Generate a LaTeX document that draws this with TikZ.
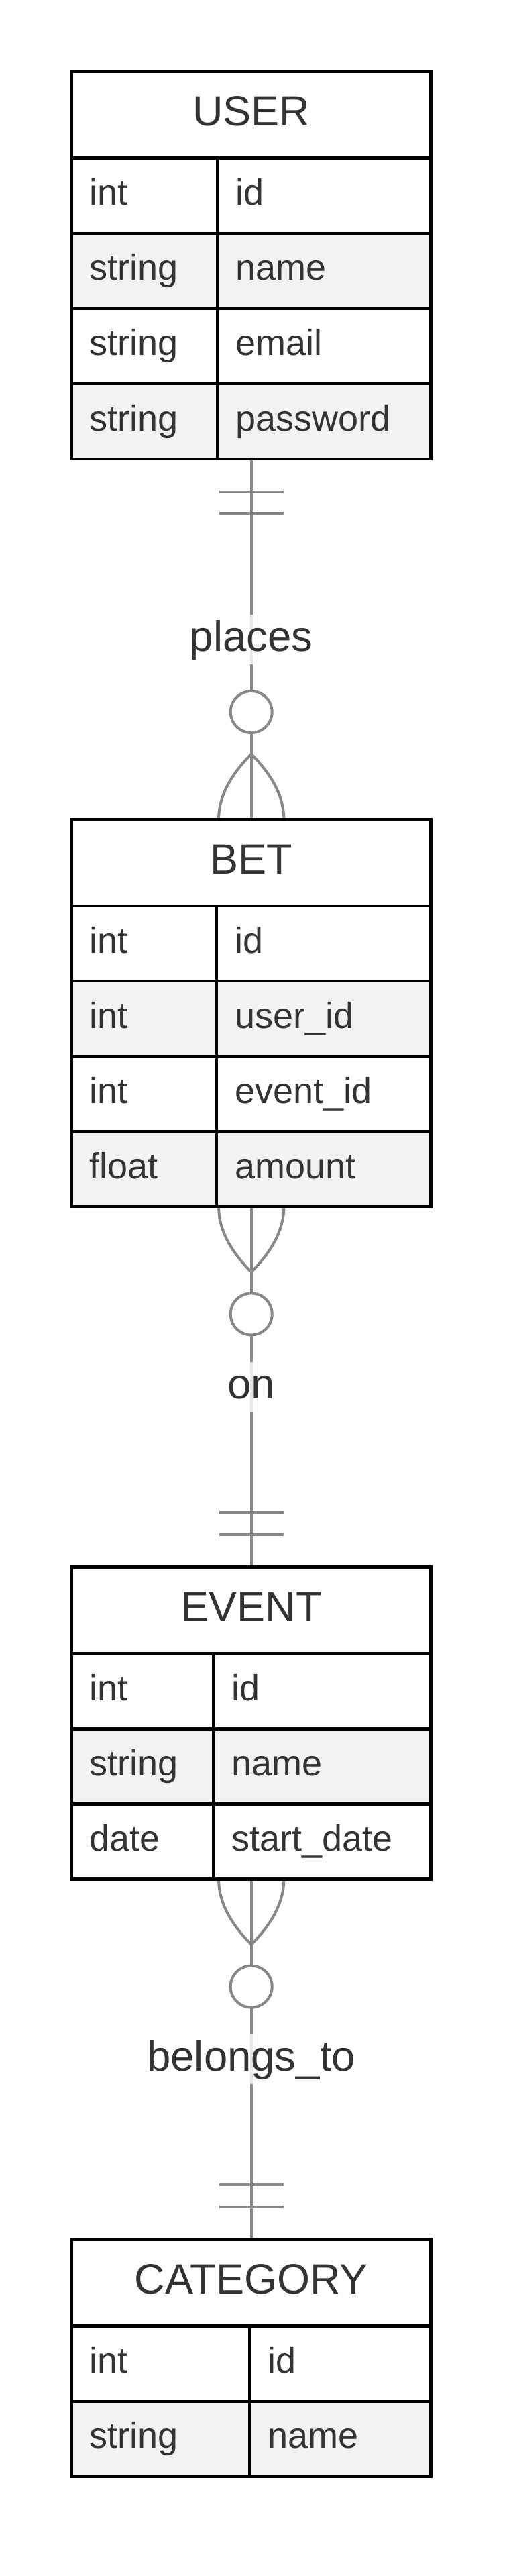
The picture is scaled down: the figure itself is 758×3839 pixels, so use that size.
\documentclass[tikz,border=0pt]{standalone}
\usepackage{fontspec}
\setmainfont{Liberation Sans}
\usetikzlibrary{calc,backgrounds}
\definecolor{txt}{RGB}{51,51,51}
\definecolor{lg}{RGB}{136,136,136}
\definecolor{rowalt}{RGB}{242,242,242}
\tikzset{
  cellbox/.style={draw=black, line width=4.6pt},
  conn/.style={draw=lg, line width=4pt},
  hdr/.style={text=txt, font=\fontsize{63}{70}\selectfont, anchor=base, inner sep=0pt},
  att/.style={text=txt, font=\fontsize{54}{60}\selectfont, anchor=base west, inner sep=0pt},
  lbl/.style={text=txt, font=\fontsize{63.5}{70}\selectfont, fill=white, fill opacity=0.8, text opacity=1, inner xsep=4pt, inner ysep=0pt, text height=54.5pt, text depth=19.5pt},
  entframe/.style={draw=black, line width=4.6pt, inner sep=0pt, outer sep=0pt, minimum width=536pt, anchor=north},
  zerocirc/.style={circle, draw=lg, fill=white, line width=4pt, minimum size=62pt, inner sep=0pt},
}
\newcommand{\drawentity}[6]{%
  \pgfmathsetmacro{\enth}{129+#5*112.1}
  \draw[cellbox, fill=white] (106.7,#2) rectangle (642.7,{#2+129});
  \foreach \ty/\nm [count=\i] in {#6} {
    \pgfmathsetmacro{\rt}{#2+129+(\i-1)*112.1}
    \ifodd\i \def\rf{white}\else \def\rf{rowalt}\fi
    \draw[cellbox, fill=\rf] (106.7,\rt) rectangle (#3,{\rt+112.1});
    \draw[cellbox, fill=\rf] (#3,\rt) rectangle (642.7,{\rt+112.1});
    \node[att] (#1-type\i) at (133.2,{\rt+70}) {\ty};
    \node[att] (#1-attr\i) at ({#3+27},{\rt+70}) {\nm};
  }
  \node[entframe, minimum height=\enth pt] (#1) at (374.7,#2) {};
  \node[hdr] (#1-title) at (374.7,{#2+81}) {#4};
}
\newcommand{\crowfoot}[2]{%
  \begin{scope}[shift={(#1)}, yscale=#2]
    \draw[conn] (-48.6,0) .. controls (-48.6,-32.4) and (-32.4,-64.8) .. (0,-97.2);
    \draw[conn] (48.6,0) .. controls (48.6,-32.4) and (32.4,-64.8) .. (0,-97.2);
  \end{scope}}
\newcommand{\onlyone}[2]{%
  \begin{scope}[shift={(#1)}, yscale=#2]
    \draw[conn] (-48,-48.5) -- (48,-48.5);
    \draw[conn] (-48,-81) -- (48,-81);
  \end{scope}}
\begin{document}
\begin{tikzpicture}[x=1pt,y=-1pt]
\useasboundingbox (0,0) rectangle (758,3839);

\drawentity{user}{106.7}{324.3}{USER}{4}{int/id, string/name, string/email, string/password}
\drawentity{bet}{1221}{323}{BET}{4}{int/id, int/user\_id, int/event\_id, float/amount}
\drawentity{event}{2335.3}{318.5}{EVENT}{3}{int/id, string/name, date/start\_date}
\drawentity{category}{3337.3}{372}{CATEGORY}{2}{int/id, string/name}

\begin{scope}[on background layer]
  \fill[white] (0,0) rectangle (758,3839);
  % USER places BET
  \draw[conn] (user.south) -- (bet.north);
  \onlyone{user.south}{-1}
  \crowfoot{bet.north}{1}
  \node[zerocirc] (z1) at ($(bet.north)+(0,-160)$) {};
  \node[lbl] (l1) at ($(user.south)!0.5!(bet.north)$) {places};
  % BET on EVENT
  \draw[conn] (bet.south) -- (event.north);
  \crowfoot{bet.south}{-1}
  \node[zerocirc] (z2) at ($(bet.south)+(0,160)$) {};
  \onlyone{event.north}{1}
  \node[lbl] (l2) at ($(bet.south)!0.5!(event.north)$) {on};
  % EVENT belongs_to CATEGORY
  \draw[conn] (event.south) -- (category.north);
  \crowfoot{event.south}{-1}
  \node[zerocirc] (z3) at ($(event.south)+(0,160)$) {};
  \onlyone{category.north}{1}
  \node[lbl] (l3) at ($(event.south)!0.5!(category.north)$) {belongs\_to};
\end{scope}
\end{tikzpicture}
\end{document}
